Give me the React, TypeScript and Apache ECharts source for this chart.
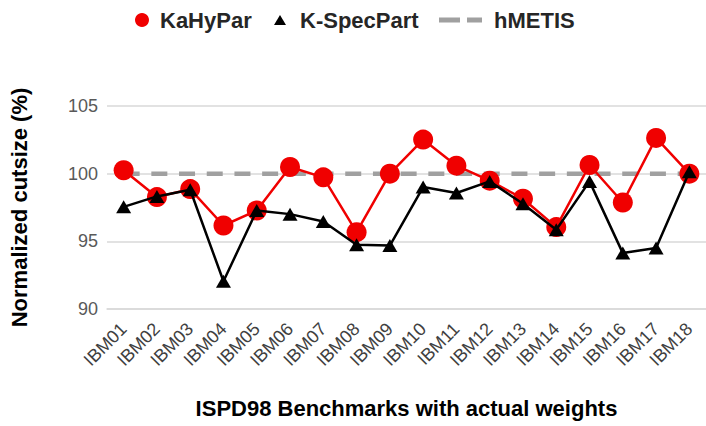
import React, { useEffect, useRef } from "react";
import * as echarts from "echarts";

const categories = [
  "IBM01", "IBM02", "IBM03", "IBM04", "IBM05", "IBM06", "IBM07", "IBM08", "IBM09",
  "IBM10", "IBM11", "IBM12", "IBM13", "IBM14", "IBM15", "IBM16", "IBM17", "IBM18",
];
const kahypar = [100.25, 98.27, 98.86, 96.17, 97.28, 100.49, 99.73, 95.68, 100.0, 102.52, 100.59, 99.48, 98.15, 96.05, 100.64, 97.87, 102.64, 100.0];
const kspecpart = [97.55, 98.32, 98.81, 92.05, 97.28, 97.01, 96.47, 94.74, 94.69, 99.01, 98.57, 99.43, 97.78, 95.85, 99.43, 94.13, 94.5, 100.15];
const hmetis = [100, 100, 100, 100, 100, 100, 100, 100, 100, 100, 100, 100, 100, 100, 100, 100, 100, 100];

const FONT = "'Liberation Sans', Arial, sans-serif";

export default function App() {
  const ref = useRef<HTMLDivElement>(null);
  useEffect(() => {
    if (!ref.current) return;
    const chart = echarts.init(ref.current, undefined, { renderer: "svg" });
    const legendText = { fontFamily: FONT, fontSize: 22, fontWeight: "bold" as const, color: "#262626" };
    chart.setOption({
      animation: false,
      textStyle: { fontFamily: FONT },
      legend: [
        {
          data: [{ name: "KaHyPar", icon: "circle" }],
          left: 130, top: 4, itemWidth: 14, itemHeight: 14, selectedMode: false,
          textStyle: { ...legendText, padding: [0, 0, 0, 6] },
        },
        {
          data: [{ name: "K-SpecPart", icon: "triangle" }],
          left: 269, top: 4, itemWidth: 12, itemHeight: 10, selectedMode: false,
          textStyle: { ...legendText, padding: [0, 0, 0, 9] },
        },
        {
          data: [{ name: "hMETIS", icon: "path://M0,0H21V5H0Z M28,0H43V5H28Z" }],
          left: 434, top: 4, itemWidth: 43, itemHeight: 5, selectedMode: false,
          textStyle: { ...legendText, padding: [0, 0, 0, 7] },
        },
      ],
      grid: { left: 104.5, top: 106, width: 605, height: 203 },
      xAxis: {
        type: "category",
        data: categories,
        boundaryGap: true,
        name: "ISPD98 Benchmarks with actual weights",
        nameLocation: "middle",
        nameGap: 88,
        nameTextStyle: { fontFamily: FONT, fontSize: 22, fontWeight: "bold", color: "#000" },
        axisLine: { show: true, lineStyle: { color: "#d9d9d9", width: 1.5 } },
        axisTick: { show: false },
        axisLabel: { rotate: 45, fontFamily: FONT, fontSize: 18, color: "#404040", margin: 17, interval: 0 },
      },
      yAxis: {
        type: "value",
        min: 90,
        max: 105,
        interval: 5,
        name: "Normalized cutsize (%)",
        nameLocation: "middle",
        nameGap: 77,
        nameTextStyle: { fontFamily: FONT, fontSize: 22, fontWeight: "bold", color: "#000" },
        axisLine: { show: false },
        axisTick: { show: false },
        axisLabel: { fontFamily: FONT, fontSize: 18, color: "#595959", margin: 9 },
        splitLine: { lineStyle: { color: "#d9d9d9", width: 1.5 } },
      },
      series: [
        {
          name: "hMETIS",
          type: "line",
          data: hmetis,
          symbol: "none",
          itemStyle: { color: "#a0a0a0" },
          lineStyle: { color: "#a0a0a0", width: 4.5, type: [16, 11.7] },
          z: 1,
        },
        {
          name: "KaHyPar",
          type: "line",
          data: kahypar,
          symbol: "circle",
          symbolSize: 20,
          itemStyle: { color: "#f00000" },
          lineStyle: { color: "#f00000", width: 2.5 },
          z: 2,
        },
        {
          name: "K-SpecPart",
          type: "line",
          data: kspecpart,
          symbol: "triangle",
          symbolSize: [15, 13],
          itemStyle: { color: "#000000" },
          lineStyle: { color: "#000000", width: 2.5 },
          z: 3,
        },
      ],
    });
    return () => chart.dispose();
  }, []);
  return <div ref={ref} style={{ width: 706, height: 426, position: "absolute", left: 0, top: 0 }} />;
}
